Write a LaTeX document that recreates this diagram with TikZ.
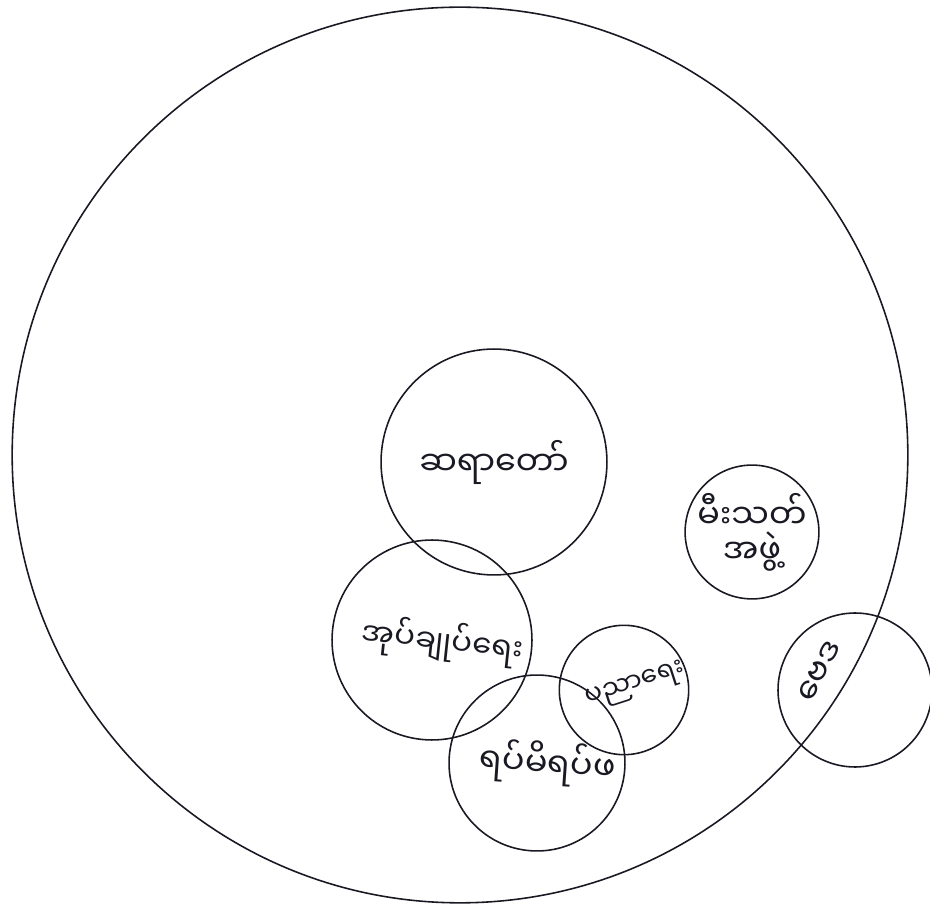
\documentclass[tikz,border=0pt]{standalone}
\usepackage{fontspec}
\newfontfamily\mmfont[Script=Myanmar]{Noto Sans Myanmar UI}
\usetikzlibrary{positioning}
\definecolor{pen}{RGB}{25,25,35}
\tikzset{
  % one circle per group, size in pixels of the sheet
  zone/.style={circle,draw=pen,line width=0.9pt,inner sep=0pt,
    minimum size=#1*0.04cm,font=\mmfont\fontsize{19}{24}\selectfont,
    text=pen,align=center},
  zone/.default=100,
  small/.style={font=\mmfont\fontsize{15}{19}\selectfont},
  village/.style={circle,draw=pen,line width=0.9pt,inner sep=0pt,minimum size=#1*0.04cm},
}
\begin{document}
\begin{tikzpicture}[x=0.02cm,y=-0.02cm]
  \useasboundingbox (0,0) rectangle (930,911);
  \node[village=448] (town) at (460,455) {};
  \node[zone=113] (sayadaw) at (494,462) {ဆရာတော်};
  \node[zone=57] (fire) at (752,532) {မီးသတ်\\[-4pt]အဖွဲ့};
  \node[zone=100,rotate=-6,font=\mmfont\fontsize{17.5}{22}\selectfont] (admin) at (432,640) {\hspace*{12pt}အုပ်ချုပ်ရေး};
  \node[zone=63,rotate=18,small] (school) at (624,690) {\hspace*{14pt}ပညာရေး};
  \node[zone=88,rotate=-4] (elders) at (537,763) {\hspace*{12pt}ရပ်မိရပ်ဖ};
  \node[zone=77,rotate=62] (astro) at (855,690) {\raisebox{44pt}{ဗေဒ}};
\end{tikzpicture}
\end{document}
